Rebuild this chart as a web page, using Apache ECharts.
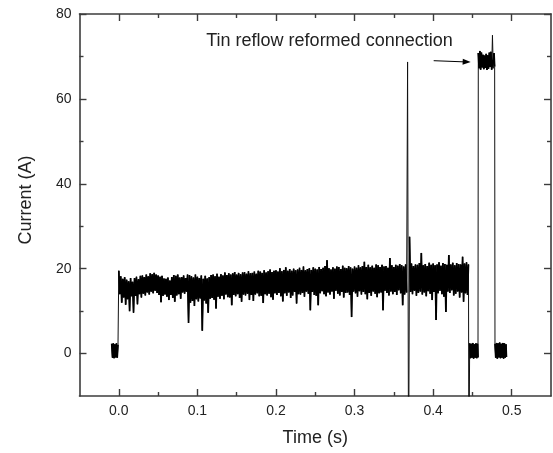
<!DOCTYPE html>
<html><head><meta charset="utf-8">
<script src="https://cdn.jsdelivr.net/npm/echarts@6/dist/echarts.min.js"></script>
<style>html,body{margin:0;padding:0;background:#fff}#c{width:553px;height:453px}</style>
</head><body><div id="c"></div><script>
// ---- data ----
const xMajorTicks = [0, 0.1, 0.2, 0.3, 0.4, 0.5];
const xMinorTicks = [0.05, 0.15, 0.25, 0.35, 0.45];
const yMajorTicks = [0, 20, 40, 60, 80];
const yMinorTicks = [10, 30, 50, 70];

// off-state before current starts: [time (s), current (A)]
const preBlock = [[-0.009, 2.3], [-0.008, -1.0], [-0.007, 2.4], [-0.006, -1.1], [-0.005, 2.2], [-0.004, -0.9], [-0.003, 2.4], [-0.002, -1.0], [-0.001, 2.1]];

// noisy conduction phase, sampled every noiseStep seconds from noiseStart
const noiseStart = 0;
const noiseStep = 0.00125;
const noiseCurrent = [
 19.5, 14.0, 18.2, 12.0, 17.6, 13.2, 18.0, 11.5,
 17.4, 12.8, 17.0, 10.0, 17.8, 13.5, 16.9, 9.6,
 17.8, 13.6, 18.1, 11.6, 17.5, 14.0, 18.3, 13.2,
 18.4, 14.1, 18.0, 13.7, 18.6, 14.4, 18.2, 13.9,
 18.9, 14.6, 18.7, 14.2, 19.0, 14.8, 18.6, 14.3,
 18.4, 13.8, 18.1, 12.1, 18.3, 13.6, 17.7, 13.9,
 17.6, 13.4, 17.9, 12.6, 17.2, 13.8, 18.0, 13.1,
 18.5, 12.2, 18.3, 13.7, 18.6, 14.0, 17.9, 12.9,
 18.0, 14.4, 18.4, 14.1, 17.8, 14.6, 18.6, 7.2,
 18.5, 12.0, 18.2, 12.4, 17.9, 11.2, 18.6, 12.8,
 18.1, 12.3, 17.8, 13.0, 18.4, 5.4, 17.6, 12.5,
 18.3, 11.8, 17.7, 9.6, 18.0, 12.9, 18.5, 13.1,
 18.6, 12.7, 18.2, 10.6, 18.8, 13.4, 18.1, 12.9,
 18.7, 13.6, 18.4, 12.8, 19.1, 13.9, 18.5, 13.3,
 18.9, 13.2, 18.6, 11.4, 18.9, 13.8, 19.2, 13.5,
 18.6, 14.0, 19.0, 13.1, 18.7, 12.2, 19.1, 13.9,
 19.2, 13.7, 18.8, 14.1, 19.4, 12.6, 18.9, 13.8,
 19.0, 12.4, 19.3, 13.9, 18.8, 14.2, 19.5, 13.5,
 19.3, 13.6, 19.0, 11.9, 19.6, 14.0, 19.1, 13.7,
 19.4, 14.1, 19.8, 13.3, 19.2, 12.7, 19.5, 14.2,
 19.6, 13.8, 19.3, 14.3, 20.1, 13.5, 19.4, 12.3,
 19.7, 14.2, 20.3, 13.6, 19.5, 14.4, 19.9, 13.1,
 19.5, 13.7, 20.0, 14.5, 19.6, 11.8, 19.8, 14.0,
 20.2, 13.9, 19.7, 14.3, 20.5, 13.4, 19.6, 14.6,
 19.9, 14.1, 20.1, 10.2, 19.7, 14.5, 20.3, 13.8,
 20.0, 13.6, 19.8, 11.4, 20.4, 14.2, 19.9, 14.7,
 20.2, 14.0, 20.6, 13.5, 22.0, 14.4, 20.1, 13.9,
 19.8, 14.6, 20.3, 12.9, 20.0, 14.8, 20.5, 14.1,
 20.4, 13.7, 19.9, 14.5, 20.7, 13.2, 20.2, 14.3,
 20.1, 14.4, 20.6, 13.8, 20.3, 8.6, 20.0, 14.6,
 20.5, 14.2, 20.2, 13.4, 20.8, 14.7, 20.3, 13.9,
 20.6, 14.5, 21.6, 14.0, 20.4, 12.8, 20.9, 14.3,
 20.3, 13.6, 20.7, 14.6, 20.2, 14.1, 21.0, 13.3,
 20.8, 14.2, 20.4, 14.4, 20.9, 10.2, 20.5, 14.8,
 20.6, 14.3, 20.2, 13.7, 22.5, 14.6, 20.8, 14.0,
 20.4, 14.5, 20.9, 13.8, 20.7, 14.9, 21.1, 14.2,
 20.8, 11.4, 20.5, 13.9, 21.0, 14.4, 68.7, -30,
 27.5, 14.5, 21.2, 14.0, 20.6, 14.8, 21.0, 13.6,
 20.9, 14.3, 21.3, 14.6, 23.7, 13.9, 20.8, 14.4,
 21.1, 13.5, 20.6, 14.7, 21.4, 14.1, 20.9, 12.6,
 21.2, 14.5, 20.8, 7.9, 21.0, 14.2, 21.5, 14.8,
 20.7, 14.0, 21.3, 13.4, 21.1, 9.8, 20.9, 14.6,
 23.2, 14.3, 21.0, 14.9, 21.4, 13.7, 20.8, 14.1,
 21.3, 14.6, 21.1, 13.2, 21.0, 14.4, 22.8, 12.2,
 21.2, 14.2, 21.5, 13.8, 21.0
];
// sample index of the large transient inside the noisy phase
const transientIndex = 294;

// break, then off-state block: [time (s), current (A)]
const breakBlock = [
 [0.4455, -30],
 [0.4465, 2.4], [0.4475, -1.1], [0.4485, 2.3], [0.4495, -1.0], [0.4505, 2.5], [0.4515, -1.2],
 [0.4525, 2.2], [0.4535, -1.0], [0.4545, 2.4], [0.4555, -1.1], [0.4565, 2.3], [0.4571, -0.9]
];
// reformed connection (high current)
const highBlock = [
 [0.4575, 70.8], [0.4585, 67.2], [0.4595, 71.3], [0.4605, 66.9], [0.4615, 70.9], [0.4625, 67.4],
 [0.4635, 70.4], [0.4645, 67.0], [0.4655, 70.2], [0.4665, 67.3], [0.4675, 70.6], [0.4685, 66.8],
 [0.4695, 70.3], [0.4705, 67.1], [0.4715, 70.9], [0.4725, 67.5], [0.4735, 71.1], [0.4745, 66.9],
 [0.4755, 75.0], [0.4765, 67.2], [0.4775, 70.8], [0.4783, 67.6]
];
// final off-state block
const endBlock = [
 [0.4787, 2.3], [0.4797, -1.0], [0.4807, 2.5], [0.4817, -1.2], [0.4827, 2.4], [0.4837, -0.9],
 [0.4847, 2.6], [0.4857, -1.1], [0.4867, 2.3], [0.4877, -1.0], [0.4887, 2.5], [0.4897, -1.2],
 [0.4907, 2.4], [0.4917, -1.0], [0.4927, 2.2], [0.4933, -0.8]
];

const annotationText = 'Tin reflow reformed connection';
const annotationTextAt = [0.1113, 73.7];
const annotationArrow = [[0.4007, 69.0], [0.4427, 68.7]];

// ---- chart ----
const FONT = '"Liberation Sans", Arial, Helvetica, sans-serif';
const AX = '#3c3c3c';
const TXT = '#222';

const noisePts = noiseCurrent.map((v, i) => [noiseStart + i * noiseStep, v]);
const trace = [].concat(preBlock, noisePts, breakBlock, highBlock, endBlock);
// thicker overlays of the dense parts (without the big transients) so they read as solid
const overlays = [
  preBlock,
  noisePts.slice(0, transientIndex),
  noisePts.slice(transientIndex + 2),
  breakBlock.slice(1),
  highBlock.filter(p => p[1] < 72),
  endBlock
];

function xAxisDef(pos, ticks, len, main) {
  return {
    type: 'value', position: pos, min: -0.05, max: 0.55, gridIndex: 0,
    axisLine: { show: main, onZero: false, lineStyle: { color: AX, width: 1.6 } },
    axisTick: { show: true, inside: true, length: len, customValues: ticks, lineStyle: { color: AX, width: 1.4 } },
    axisLabel: { show: main && pos === 'bottom', customValues: ticks, margin: 8,
      formatter: v => Number(v).toFixed(1), color: TXT, fontSize: 14, fontFamily: FONT },
    splitLine: { show: false },
    name: (main && pos === 'bottom') ? 'Time (s)' : '',
    nameLocation: 'middle', nameGap: 33,
    nameTextStyle: { color: TXT, fontSize: 18, fontFamily: FONT }
  };
}
function yAxisDef(pos, ticks, len, main) {
  return {
    type: 'value', position: pos, min: -10, max: 80, gridIndex: 0,
    axisLine: { show: main, onZero: false, lineStyle: { color: AX, width: 1.6 } },
    axisTick: { show: true, inside: true, length: len, customValues: ticks, lineStyle: { color: AX, width: 1.4 } },
    axisLabel: { show: main && pos === 'left', customValues: ticks, margin: 8,
      color: TXT, fontSize: 14, fontFamily: FONT },
    splitLine: { show: false },
    name: (main && pos === 'left') ? 'Current (A)' : '',
    nameLocation: 'middle', nameGap: 44,
    nameTextStyle: { color: TXT, fontSize: 18, fontFamily: FONT, padding: [0, 0, 0, 10] }
  };
}
function overlaySeries(data) {
  return {
    type: 'line', xAxisIndex: 0, yAxisIndex: 0, data: data,
    showSymbol: false, symbol: 'none', clip: true, silent: true,
    lineStyle: { color: '#000', width: 1.7, join: 'bevel', cap: 'butt' }
  };
}

const chart = echarts.init(document.getElementById('c'), null, { renderer: 'canvas' });
chart.setOption({
  animation: false,
  backgroundColor: '#fff',
  grid: { left: 79.5, right: 2, top: 14, bottom: 57, containLabel: false },
  xAxis: [
    xAxisDef('bottom', xMajorTicks, 7, true),
    xAxisDef('top', xMajorTicks, 7, true),
    xAxisDef('bottom', xMinorTicks, 4, false),
    xAxisDef('top', xMinorTicks, 4, false)
  ],
  yAxis: [
    yAxisDef('left', yMajorTicks, 7, true),
    yAxisDef('right', yMajorTicks, 7, true),
    yAxisDef('left', yMinorTicks, 4, false),
    yAxisDef('right', yMinorTicks, 4, false)
  ],
  series: [{
    type: 'line', xAxisIndex: 0, yAxisIndex: 0, data: trace,
    showSymbol: false, symbol: 'none', clip: true, silent: true,
    lineStyle: { color: '#111', width: 1, join: 'bevel', cap: 'butt' },
    markLine: {
      silent: true, animation: false,
      symbol: ['none', 'triangle'], symbolSize: [6, 8],
      lineStyle: { color: '#000', width: 1, type: 'solid' },
      itemStyle: { color: '#000' },
      label: { show: false },
      data: [[{ coord: annotationArrow[0] }, { coord: annotationArrow[1] }]]
    }
  }].concat(overlays.map(overlaySeries))
});
const tp = chart.convertToPixel({ xAxisIndex: 0, yAxisIndex: 0 }, annotationTextAt);
chart.setOption({
  graphic: [{
    type: 'text', x: tp[0], y: tp[1], silent: true,
    style: { text: annotationText, fill: TXT, font: '18px ' + FONT, verticalAlign: 'middle', align: 'left' }
  }]
});
</script></body></html>
